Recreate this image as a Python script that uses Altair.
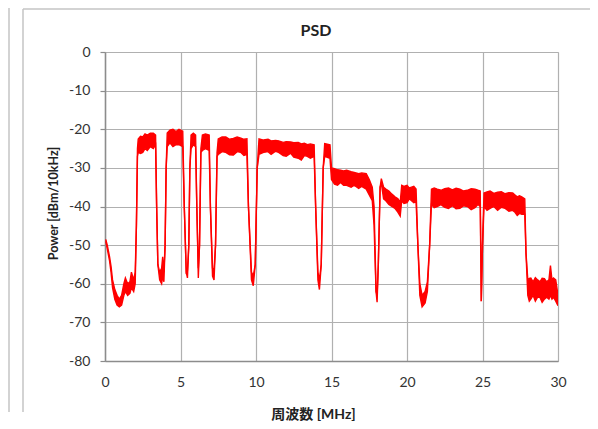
import altair as alt
import pandas as pd

# Frequency [MHz], lower and upper edge of the noisy PSD trace [dBm/10kHz]
FREQ = [0.05, 0.15, 0.3, 0.4, 0.5, 0.65, 0.8, 0.95, 1.1, 1.25, 1.35, 1.5, 1.65, 1.75, 1.9, 2.0,
        2.08, 2.15, 2.2, 2.35, 2.5, 2.65, 2.8, 3.0, 3.2, 3.35, 3.42, 3.5, 3.62, 3.75, 3.82, 3.9, 3.98,
        4.05, 4.12, 4.3, 4.5, 4.7, 4.9, 5.15, 5.25, 5.38, 5.46, 5.55, 5.62, 5.7, 5.85, 6.0, 6.08, 6.18, 6.26,
        6.35, 6.45, 6.65, 6.9, 6.98, 7.12, 7.22, 7.32, 7.42, 7.5, 7.75, 8.0, 8.25, 8.5, 8.75, 9.0, 9.2, 9.4, 9.5, 9.7,
        9.82, 9.95, 10.08, 10.2, 10.5, 10.8, 11.0, 11.3, 11.5, 11.8, 12.0, 12.3, 12.5, 12.8, 13.0, 13.2, 13.4, 13.6,
        13.85, 13.95, 14.1, 14.2, 14.32, 14.45, 14.55, 14.9, 15.0, 15.2, 15.4, 15.6, 15.8, 16.0, 16.3, 16.5,
        16.8, 17.0, 17.3, 17.5, 17.7, 17.82, 17.95, 18.02, 18.1, 18.22, 18.3, 18.45, 18.6, 18.8, 19.0,
        19.2, 19.4, 19.55, 19.65, 19.8, 20.0, 20.15, 20.3, 20.45, 20.6, 20.72, 20.85, 21.0, 21.2, 21.35,
        21.5, 21.62, 21.8, 22.0, 22.25, 22.5, 22.75, 23.0, 23.25, 23.5, 23.75, 24.0, 24.25, 24.5, 24.7,
        24.85, 24.92, 25.0, 25.1, 25.3, 25.5, 25.75, 26.0, 26.25, 26.5, 26.75, 27.0, 27.15, 27.3, 27.45,
        27.6, 27.8, 27.88, 28.0, 28.1, 28.2, 28.35, 28.5, 28.65, 28.8, 28.95, 29.1, 29.25, 29.4, 29.5,
        29.6, 29.7, 29.85, 30.0]
LO = [-49, -51, -54, -57, -61, -64, -65.5, -66, -65.5, -63, -62, -63, -62.5, -61, -62, -60,
      -45, -27, -26, -26.3, -26, -25, -25.5, -24.5, -25, -24, -40, -55, -59, -60, -58, -59.5, -50,
      -30, -24.5, -23.5, -24.5, -24, -24, -24.5, -40, -57, -58.5, -50, -30, -25, -24, -24.5, -40, -58.5, -50,
      -26, -25.5, -25, -25.5, -40, -58, -59, -50, -27, -26.5, -25.8, -26, -26.6, -26.7, -25.8, -26, -26.8, -26.5, -40, -59,
      -60.5, -55, -30, -26.5, -26, -25.8, -26.5, -25.7, -26, -26.8, -27, -26.2, -27.2, -27.5, -28, -26.8, -27, -27.5,
      -27, -40, -59, -61.5, -55, -30, -27, -27.5, -33, -34.2, -34.5, -33.8, -34.5, -34.5, -35, -34.5,
      -35.3, -34.8, -35.5, -37, -38.5, -45, -62, -64.8, -55, -35, -34, -38, -38.5, -39.5, -40,
      -40.5, -41.5, -42.5, -38.5, -39.2, -39, -38, -38.5, -39, -38.8, -50, -63, -66, -65, -62,
      -50, -39.5, -40.3, -40, -39.5, -40.2, -40.5, -39.8, -40.6, -40.5, -39.8, -40, -40.8, -40.3, -39.5,
      -40, -64.5, -50, -40, -41, -40.5, -40, -41, -40.2, -40.5, -41.2, -41, -41.5, -42.3, -41.8,
      -42, -42, -52, -63, -64.5, -64, -63, -64.5, -63.5, -63.5, -64.8, -64, -63.5, -64, -63,
      -64, -63.5, -64.5, -65.7]
HI = [-48.5, -50, -53, -55.5, -59, -61.5, -63, -64, -63, -60, -58.5, -60, -59.5, -57, -59, -57,
      -45, -25, -22.5, -21.8, -22, -21.2, -21.5, -21, -21, -21.5, -40, -55, -57, -56, -53, -57, -50,
      -30, -21, -20.2, -20, -20.6, -20, -20.5, -40, -57, -56.5, -50, -30, -21.5, -21, -21.5, -40, -56, -50,
      -25, -21.5, -21.2, -21.5, -40, -56, -56.5, -50, -26, -22.5, -22, -22, -22.6, -22.4, -22, -22.3, -22.6, -22.5, -40, -57,
      -58, -55, -30, -22.5, -22.8, -22.6, -23, -22.9, -23, -23.4, -23.2, -23.3, -23.5, -23.4, -23.8, -23.6, -24, -23.8,
      -24, -40, -57, -59, -55, -30, -23.7, -24, -30, -30.2, -30.5, -30.6, -30.8, -30.6, -31, -31.2,
      -31.5, -31.3, -31.5, -33, -35, -40, -62, -63, -55, -35, -32.8, -35, -35.5, -36, -36.8,
      -37.5, -38, -39, -34.5, -34.8, -34.5, -35.2, -35, -34.8, -35.5, -50, -60, -63, -62, -59.5,
      -50, -35.5, -35.2, -35.5, -35.8, -35.4, -35.2, -35.7, -35.3, -35.5, -36, -35.8, -35.4, -35.5, -35.8,
      -36, -64.5, -50, -36.5, -36.2, -36, -36.6, -36.3, -36.2, -36.7, -36.4, -36.5, -37, -37.5, -37.2,
      -37.5, -38, -52, -59, -58.6, -58.5, -59.5, -58.4, -59, -59.5, -58.6, -58.7, -59.5, -59, -55.3,
      -59, -58.5, -59, -63]

X_TICKS = [0, 5, 10, 15, 20, 25, 30]
Y_TICKS = [-80, -70, -60, -50, -40, -30, -20, -10, 0]

df = pd.DataFrame({"f": FREQ, "lo": LO, "hi": HI})

FONT = "Lato, Noto Sans CJK JP, sans-serif"
RED = "#ff0000"
W, H = 453, 309

xenc = alt.X("f:Q", scale=alt.Scale(domain=[0, 30], nice=False),
             axis=alt.Axis(values=X_TICKS, title="周波数 [MHz]", ticks=False,
                           labelPadding=14, labelFlush=False, titleX=208, titleY=53,
                           titleBaseline="middle", titleAnchor="middle"))
yscale = alt.Scale(domain=[-80, 0], nice=False)
yaxis = alt.Axis(values=Y_TICKS, title="Power [dBm/10kHz]", tickSize=5,
                 labelPadding=10, labelFlush=False, titleAngle=270, titleX=-52, titleY=151,
                 titleAlign="center", titleBaseline="middle", titleFontSize=12.5,
                 labelExpr="toString(datum.value)")

band = alt.Chart(df).mark_area(color=RED, opacity=1, clip=True).encode(
    x=xenc,
    y=alt.Y("lo:Q", scale=yscale, axis=yaxis),
    y2="hi:Q",
)
line_lo = alt.Chart(df).mark_line(color=RED, strokeWidth=1.4, clip=True).encode(
    x=xenc, y=alt.Y("lo:Q", scale=yscale, axis=yaxis))
line_hi = alt.Chart(df).mark_line(color=RED, strokeWidth=1.4, clip=True).encode(
    x=xenc, y=alt.Y("hi:Q", scale=yscale, axis=yaxis))

one = pd.DataFrame({"a": [0]})
frame_c = "#c4c4c4"
frame1 = alt.Chart(one).mark_rule(color=frame_c, strokeWidth=1.5).encode(
    x=alt.value(-96), y=alt.value(-44), y2=alt.value(360))
frame2 = alt.Chart(one).mark_rule(color=frame_c, strokeWidth=1.5).encode(
    x=alt.value(-82), y=alt.value(-43), y2=alt.value(360))
frame3 = alt.Chart(one).mark_rule(color=frame_c, strokeWidth=1.5).encode(
    x=alt.value(-82), x2=alt.value(490), y=alt.value(-43))
title = alt.Chart(one).mark_text(text="PSD", font=FONT, fontSize=16, fontWeight="bold",
                                 color="#222222", baseline="middle", align="center").encode(
    x=alt.value(211), y=alt.value(-21))

chart = alt.layer(band, line_lo, line_hi, frame1, frame2, frame3, title).properties(
    width=W, height=H,
    autosize=alt.AutoSizeParams(type="none"),
    padding={"left": 97, "top": 44, "right": 32, "bottom": 60},
).configure_view(stroke="#d0d0d0", strokeWidth=1).configure_axis(
    labelFont=FONT, titleFont=FONT, labelFontSize=14, labelColor="#333333",
    titleColor="#222222", titleFontWeight="bold", titleFontSize=14,
    gridColor="#b0b0b0", gridWidth=1.2, domainColor="#8c8c8c", domainWidth=1.5,
    tickColor="#8c8c8c", tickWidth=1.2,
)

chart.save("out.html", embed_options={"renderer": "svg", "actions": False})
